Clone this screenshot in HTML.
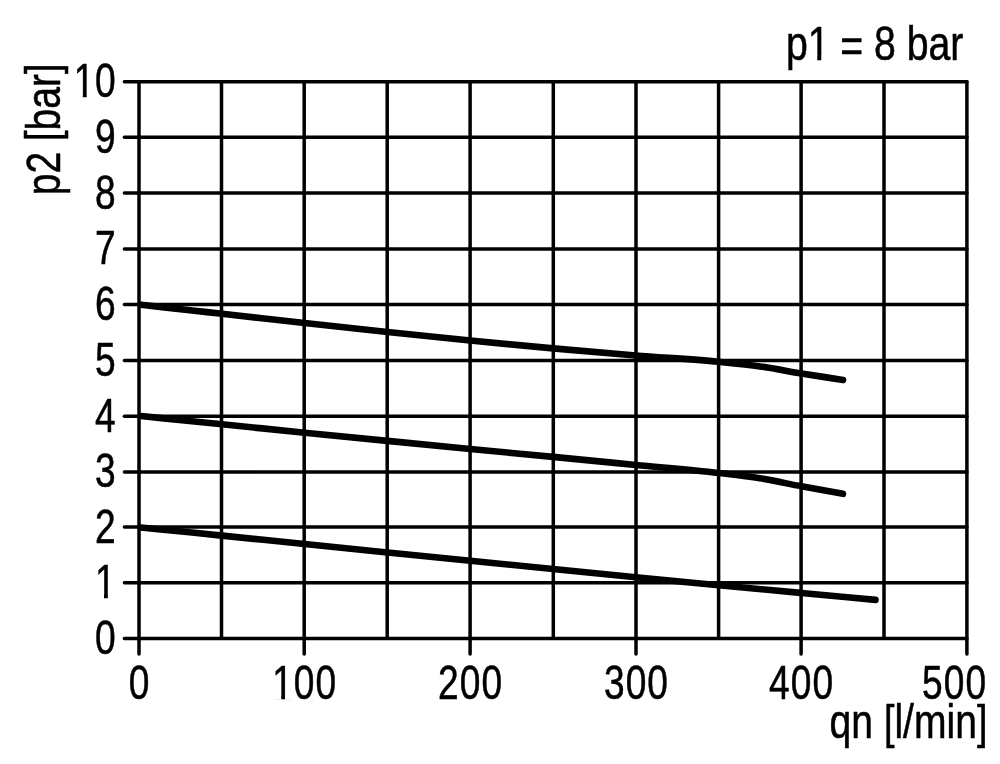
<!DOCTYPE html>
<html lang="en">
<head>
<meta charset="utf-8">
<title>p2 / qn flow chart</title>
<style>
html,body{margin:0;padding:0;background:#fff;}
body{width:1000px;height:764px;overflow:hidden;}
svg{display:block;}
text{font-family:"Liberation Sans",sans-serif;font-size:48.2px;fill:#000;stroke:#000;stroke-width:0.55;stroke-linejoin:round;}
.g{stroke:#000;stroke-width:3.5;stroke-linecap:round;fill:none;}
.c{stroke:#000;stroke-width:6.6;stroke-linecap:round;stroke-linejoin:round;fill:none;}
</style>
</head>
<body>
<svg width="1000" height="764" viewBox="0 0 1000 764">
<rect width="1000" height="764" fill="#fff"/>
<g class="g">
<line x1="124.4" y1="81.80" x2="966.9" y2="81.80"/>
<line x1="124.4" y1="137.20" x2="966.9" y2="137.20"/>
<line x1="124.4" y1="193.10" x2="966.9" y2="193.10"/>
<line x1="124.4" y1="249.00" x2="966.9" y2="249.00"/>
<line x1="124.4" y1="304.60" x2="966.9" y2="304.60"/>
<line x1="124.4" y1="360.50" x2="966.9" y2="360.50"/>
<line x1="124.4" y1="416.25" x2="966.9" y2="416.25"/>
<line x1="124.4" y1="471.90" x2="966.9" y2="471.90"/>
<line x1="124.4" y1="527.10" x2="966.9" y2="527.10"/>
<line x1="124.4" y1="582.80" x2="966.9" y2="582.80"/>
<line x1="124.4" y1="638.60" x2="966.9" y2="638.60"/>
<line x1="139.00" y1="81.8" x2="139.00" y2="654.0"/>
<line x1="221.50" y1="81.8" x2="221.50" y2="637.6"/>
<line x1="304.20" y1="81.8" x2="304.20" y2="654.0"/>
<line x1="387.20" y1="81.8" x2="387.20" y2="637.6"/>
<line x1="470.10" y1="81.8" x2="470.10" y2="654.0"/>
<line x1="553.30" y1="81.8" x2="553.30" y2="637.6"/>
<line x1="636.00" y1="81.8" x2="636.00" y2="654.0"/>
<line x1="718.60" y1="81.8" x2="718.60" y2="637.6"/>
<line x1="801.10" y1="81.8" x2="801.10" y2="654.0"/>
<line x1="884.00" y1="81.8" x2="884.00" y2="637.6"/>
<line x1="966.90" y1="81.8" x2="966.90" y2="654.0"/>
</g>
<path class="c" d="M141.0,304.74 C158.0,306.65 175.0,308.55 192.0,310.46 C202.0,311.58 212.0,312.71 222.0,313.83 C249.5,316.92 277.1,320.02 304.6,323.05 C332.2,326.09 359.8,329.11 387.4,332.03 C415.0,334.95 442.6,337.82 470.2,340.55 C497.8,343.28 525.4,345.89 553.0,348.39 C580.6,350.89 608.2,353.31 635.8,355.55 C663.4,357.79 691.0,359.06 718.6,361.80 C732.4,363.17 746.2,364.47 760.0,366.40 C773.8,368.33 787.6,371.14 801.4,373.40 C815.3,375.67 829.1,377.80 843.0,380.00"/>
<path class="c" d="M141.0,415.99 C158.0,417.74 175.0,419.51 192.0,421.25 C202.0,422.28 212.0,423.30 222.0,424.32 C249.5,427.13 277.1,429.91 304.6,432.67 C332.2,435.43 359.8,438.17 387.4,440.88 C415.0,443.59 442.6,446.28 470.2,448.95 C497.8,451.62 525.4,454.22 553.0,456.89 C580.6,459.56 608.2,462.26 635.8,464.95 C663.4,467.63 691.0,469.75 718.6,473.00 C732.4,474.62 746.2,476.08 760.0,478.30 C773.8,480.52 787.6,483.72 801.4,486.30 C815.3,488.89 829.1,491.30 843.0,493.80"/>
<path class="c" d="M141.0,527.50 C158.0,529.19 175.0,530.86 192.0,532.58 C202.0,533.59 212.0,534.61 222.0,535.63 C249.5,538.43 277.1,541.24 304.6,544.04 C332.2,546.85 359.8,549.65 387.4,552.44 C415.0,555.23 442.6,558.02 470.2,560.79 C497.8,563.56 525.4,566.31 553.0,569.04 C580.6,571.77 608.2,574.47 635.8,577.16 C663.4,579.85 691.0,582.56 718.6,585.20 C746.2,587.84 773.8,590.42 801.4,593.00 C826.1,595.31 850.8,597.60 875.5,599.90"/>
<text transform="translate(115.6,654.0) scale(0.77,1)" text-anchor="end">0</text>
<text transform="translate(115.6,598.2) scale(0.77,1)" text-anchor="end" clip-path="url(#k1)">1</text>
<text transform="translate(115.6,542.5) scale(0.77,1)" text-anchor="end">2</text>
<text transform="translate(115.6,487.3) scale(0.77,1)" text-anchor="end">3</text>
<text transform="translate(115.6,431.6) scale(0.77,1)" text-anchor="end">4</text>
<text transform="translate(115.6,375.9) scale(0.77,1)" text-anchor="end">5</text>
<text transform="translate(115.6,320.0) scale(0.77,1)" text-anchor="end">6</text>
<text transform="translate(115.6,264.4) scale(0.77,1)" text-anchor="end">7</text>
<text transform="translate(115.6,208.5) scale(0.77,1)" text-anchor="end">8</text>
<text transform="translate(115.6,152.6) scale(0.77,1)" text-anchor="end">9</text>
<text transform="translate(116.0,97.2) scale(0.77,1)" text-anchor="end" letter-spacing="0.6" clip-path="url(#k2)">10</text>
<text transform="translate(139.0,698.6) scale(0.759,1)" text-anchor="middle" style="font-size:48.9px">0</text>
<text transform="translate(304.7,698.6) scale(0.759,1)" text-anchor="middle" letter-spacing="1.4" style="font-size:48.9px" clip-path="url(#k3)">100</text>
<text transform="translate(470.6,698.6) scale(0.759,1)" text-anchor="middle" letter-spacing="1.4" style="font-size:48.9px">200</text>
<text transform="translate(636.5,698.6) scale(0.759,1)" text-anchor="middle" letter-spacing="1.4" style="font-size:48.9px">300</text>
<text transform="translate(801.6,698.6) scale(0.759,1)" text-anchor="middle" letter-spacing="1.4" style="font-size:48.9px">400</text>
<text transform="translate(987.2,698.6) scale(0.759,1)" text-anchor="end" letter-spacing="1.4" style="font-size:48.9px">500</text>
<text transform="translate(987.4,738.0) scale(0.811,1)" text-anchor="end">qn <tspan font-size="46.5">[</tspan>l/min<tspan font-size="46.5">]</tspan></text>
<text transform="translate(963.4,59.8) scale(0.813,1)" text-anchor="end" clip-path="url(#k4)">p1 <tspan dy="2.6">=</tspan><tspan dy="-2.6"> 8 bar</tspan></text>
<text transform="translate(60.4,195.3) rotate(-90) scale(0.81,1)" text-anchor="start">p2 <tspan dy="-2.6" font-size="46.5">[</tspan><tspan dy="2.6">bar</tspan><tspan dy="-2.6" font-size="46.5">]</tspan></text>
<defs><clipPath id="k1" clipPathUnits="userSpaceOnUse"><path clip-rule="evenodd" d="M-400,-100H400V100H-400Z M-24.45,-4.30H-15.03V1.20H-24.45Z M-10.07,-4.30H-0.92V1.20H-10.07Z"/></clipPath><clipPath id="k2" clipPathUnits="userSpaceOnUse"><path clip-rule="evenodd" d="M-400,-100H400V100H-400Z M-52.46,-4.30H-43.04V1.20H-52.46Z M-38.08,-4.30H-28.92V1.20H-38.08Z"/></clipPath><clipPath id="k3" clipPathUnits="userSpaceOnUse"><path clip-rule="evenodd" d="M-400,-100H400V100H-400Z M-40.49,-4.35H-30.93V1.20H-40.49Z M-25.91,-4.35H-16.62V1.20H-25.91Z"/></clipPath><clipPath id="k4" clipPathUnits="userSpaceOnUse"><path clip-rule="evenodd" d="M-400,-100H400V100H-400Z M-189.20,-4.30H-179.78V1.20H-189.20Z M-174.82,-4.30H-165.66V1.20H-174.82Z"/></clipPath></defs>
</svg>
</body>
</html>
